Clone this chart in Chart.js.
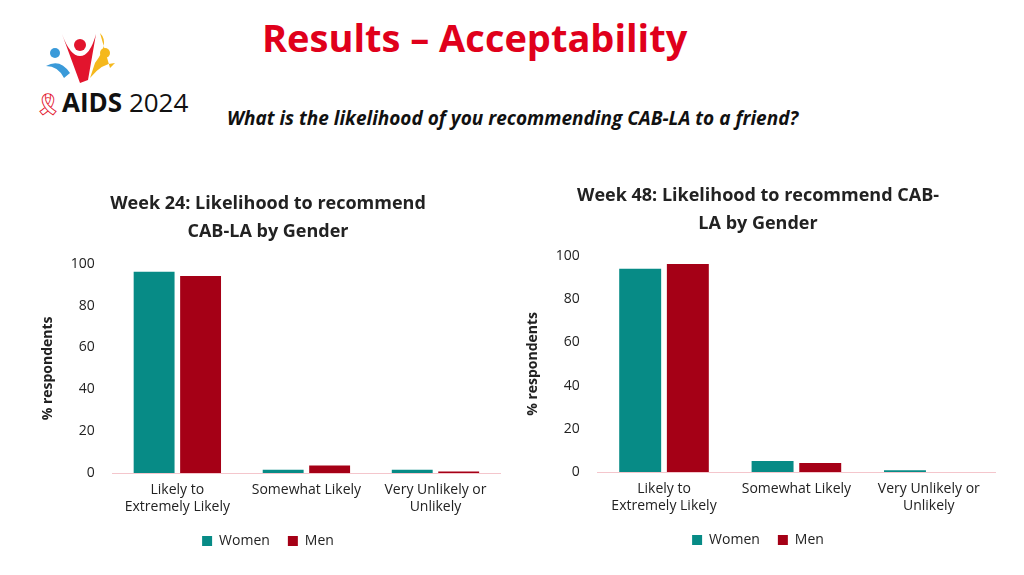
<!DOCTYPE html>
<html><head><meta charset="utf-8">
<script src="https://cdn.jsdelivr.net/npm/chart.js@4"></script>
<style>
body{margin:0;width:1024px;height:575px;background:#fff;font-family:"Open Sans",sans-serif;position:relative;overflow:hidden}
#t{position:absolute;left:262px;top:11px;font-size:38px;font-weight:bold;color:#e0001b}
#s{position:absolute;left:227px;top:105px;font-size:19px;font-weight:bold;font-style:italic;color:#111}
#logo{position:absolute;left:34px;top:84px;font-size:26px;color:#111}
.c{position:absolute}
</style></head><body>
<div id="t">Results – Acceptability</div>
<div id="s">What is the likelihood of you recommending CAB-LA to a friend?</div>
<svg class="c" style="left:40px;top:28px" width="80" height="60">
<circle cx="15" cy="25" r="5" fill="#3a9ad9"/><path d="M6 38 Q20 30 30 45 L24 50 Q18 38 6 38Z" fill="#3a9ad9"/>
<circle cx="40" cy="17" r="6" fill="#e2142d"/><path d="M22 6 Q30 28 40 28 Q50 28 56 6 L48 52 L40 55Z" fill="#e2142d"/>
<circle cx="65" cy="25" r="5" fill="#f5b81c"/><path d="M60 5 Q70 15 55 35 L50 50 Q62 35 75 35 L70 40" fill="#f5b81c"/>
</svg>
<div id="logo"><span style="color:#e2142d;font-size:22px">&#x1F397;</span><b>AIDS</b> 2024</div>
<div class="c" style="left:36px;top:190px;width:474px;height:368px"><canvas id="c1"></canvas></div>
<div class="c" style="left:521px;top:182px;width:484px;height:375px"><canvas id="c2"></canvas></div>
<script>
const categories=[["Likely to","Extremely Likely"],"Somewhat Likely",["Very Unlikely or","Unlikely"]];
const week24Women=[96.2,1.6,1.6];
const week24Men=[94.2,3.6,0.7];
const week48Women=[94,5.1,0.8];
const week48Men=[96.2,4.2,0];
const yTicks=[0,20,40,60,80,100];
Chart.defaults.font.family='"Open Sans",sans-serif';
Chart.defaults.color='#222';
function mk(id,title,w,m){
 new Chart(document.getElementById(id),{type:'bar',
 data:{labels:categories,datasets:[
  {label:'Women',data:w,backgroundColor:'#078b86',categoryPercentage:0.72,barPercentage:0.88},
  {label:'Men',data:m,backgroundColor:'#a50016',categoryPercentage:0.72,barPercentage:0.88}]},
 options:{responsive:true,maintainAspectRatio:false,animation:false,
  layout:{padding:{right:10}},
  plugins:{title:{display:true,text:title,font:{size:18,weight:'bold',lineHeight:1.55},color:'#222',padding:{bottom:18}},
   legend:{position:'bottom',labels:{boxWidth:10,boxHeight:10,font:{size:14},padding:18}},tooltip:{enabled:false}},
  scales:{x:{grid:{display:false},border:{color:'#f4c6cc'},ticks:{font:{size:14,lineHeight:1.25},color:'#222',padding:0}},
   y:{min:0,max:100,afterBuildTicks:a=>{a.ticks=yTicks.map(v=>({value:v}))},grid:{display:false},border:{display:false},
    ticks:{font:{size:14},color:'#222',padding:10},
    title:{display:true,text:'% respondents',font:{size:14,weight:'bold'},color:'#222'}}}}});
}
mk('c1',['Week 24: Likelihood to recommend','CAB-LA by Gender'],week24Women,week24Men);
mk('c2',['Week 48: Likelihood to recommend CAB-','LA by Gender'],week48Women,week48Men);
</script></body></html>
